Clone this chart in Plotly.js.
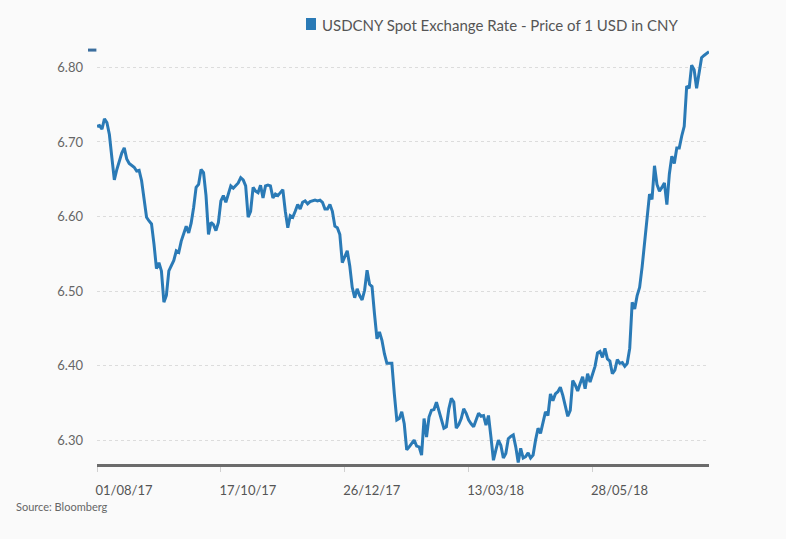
<!DOCTYPE html>
<html>
<head>
<meta charset="utf-8">
<script src="https://cdn.plot.ly/plotly-3.0.1.min.js"></script>
<style>
  html, body { margin: 0; padding: 0; background: #fafafa; }
  #chart { width: 786px; height: 539px; }
</style>
</head>
<body>
<div id="chart"></div>
<script>
// USDCNY spot rate, one value per trading day starting 01/08/17
const rate = [
  6.721, 6.722, 6.717, 6.731, 6.726, 6.710, 6.679, 6.649, 6.663, 6.674,
  6.685, 6.692, 6.677, 6.671, 6.668, 6.666, 6.661, 6.662, 6.648, 6.621,
  6.599, 6.594, 6.590, 6.563, 6.530, 6.538, 6.527, 6.485, 6.494, 6.527,
  6.534, 6.541, 6.554, 6.552, 6.567, 6.578, 6.587, 6.578, 6.591, 6.612,
  6.639, 6.643, 6.663, 6.659, 6.628, 6.576, 6.592, 6.589, 6.581, 6.592,
  6.621, 6.628, 6.619, 6.630, 6.641, 6.638, 6.641, 6.645, 6.652, 6.649,
  6.641, 6.599, 6.607, 6.639, 6.634, 6.632, 6.642, 6.625, 6.641, 6.642,
  6.641, 6.625, 6.630, 6.628, 6.632, 6.636, 6.607, 6.585, 6.601, 6.599,
  6.607, 6.616, 6.610, 6.619, 6.621, 6.617, 6.620, 6.621, 6.622, 6.621,
  6.622, 6.619, 6.610, 6.610, 6.616, 6.607, 6.587, 6.585, 6.576, 6.538,
  6.545, 6.554, 6.534, 6.505, 6.491, 6.503, 6.494, 6.488, 6.501, 6.528,
  6.509, 6.506, 6.469, 6.436, 6.445, 6.434, 6.416, 6.403, 6.403, 6.403,
  6.362, 6.327, 6.329, 6.338, 6.322, 6.287, 6.291, 6.296, 6.300, 6.292,
  6.291, 6.280, 6.329, 6.304, 6.331, 6.340, 6.341, 6.351, 6.340, 6.329,
  6.316, 6.318, 6.342, 6.356, 6.351, 6.316, 6.321, 6.329, 6.342, 6.336,
  6.327, 6.322, 6.318, 6.327, 6.336, 6.332, 6.333, 6.320, 6.333, 6.304,
  6.273, 6.287, 6.300, 6.293, 6.276, 6.282, 6.302, 6.305, 6.307, 6.291,
  6.270, 6.289, 6.276, 6.278, 6.283, 6.276, 6.280, 6.300, 6.316, 6.309,
  6.324, 6.338, 6.333, 6.362, 6.353, 6.362, 6.365, 6.371, 6.360, 6.345,
  6.332, 6.340, 6.380, 6.374, 6.366, 6.376, 6.385, 6.369, 6.389, 6.378,
  6.389, 6.399, 6.417, 6.419, 6.411, 6.423, 6.409, 6.406, 6.389, 6.394,
  6.408, 6.403, 6.404, 6.399, 6.403, 6.423, 6.485, 6.476, 6.494, 6.505,
  6.532, 6.567, 6.603, 6.630, 6.623, 6.668, 6.643, 6.634, 6.639, 6.645,
  6.616, 6.657, 6.681, 6.671, 6.692, 6.692, 6.708, 6.721, 6.775, 6.772,
  6.803, 6.797, 6.772, 6.792, 6.813, 6.816, 6.819, 6.821
];

const tickDays = [0, 50, 100, 150, 200];
const tickLabels = ["01/08/17", "17/10/17", "26/12/17", "13/03/18", "28/05/18"];
const yTicks = [6.30, 6.40, 6.50, 6.60, 6.70, 6.80];

const seriesName = "USDCNY Spot Exchange Rate - Price of 1 USD in CNY";
const sourceText = "Source: Bloomberg";

const lineColor = "#2a7ab6";
const fontFam = "Lato, 'Open Sans', sans-serif";

const trace = {
  y: rate,
  type: "scatter",
  mode: "lines",
  line: { color: lineColor, width: 3 },
  showlegend: false,
  hoverinfo: "skip"
};

const layout = {
  width: 786,
  height: 539,
  margin: { l: 97, r: 77, t: 48, b: 75 },
  paper_bgcolor: "#fafafa",
  plot_bgcolor: "#fafafa",
  font: { family: fontFam, color: "#666", size: 13 },
  showlegend: false,
  xaxis: {
    range: [0, 247],
    tickmode: "array",
    tickvals: tickDays,
    ticktext: tickLabels,
    showgrid: false,
    zeroline: false,
    showline: true,
    linecolor: "#6b6b6b",
    linewidth: 2.5,
    ticks: "outside",
    ticklen: 5,
    tickwidth: 1,
    tickcolor: "#d0d0d0",
    ticklabelshift: 27,
    ticklabelstandoff: 8,
    tickfont: { family: fontFam, size: 13, color: "#555" },
    fixedrange: true
  },
  yaxis: {
    range: [6.268, 6.826],
    tickmode: "array",
    tickvals: yTicks,
    tickformat: ".2f",
    showgrid: true,
    gridcolor: "#dcdcdc",
    griddash: "dot",
    gridwidth: 1,
    zeroline: false,
    showline: false,
    ticks: "",
    ticklabelstandoff: 13,
    tickfont: { family: fontFam, size: 13, color: "#666" },
    fixedrange: true
  },
  shapes: [
    { type: "rect", xref: "paper", yref: "paper",
      x0: 0.3415, x1: 0.3578, y0: 1.0433, y1: 1.0721,
      fillcolor: lineColor, line: { width: 0 } },
    { type: "line", xref: "paper", yref: "paper",
      x0: -0.0147, x1: -0.001, y0: 0.995, y1: 0.995,
      line: { color: "#3b6e9e", width: 3 } }
  ],
  annotations: [
    { text: seriesName, xref: "paper", yref: "paper",
      x: 0.3644, y: 1.0553, xanchor: "left", yanchor: "middle",
      showarrow: false, font: { family: fontFam, size: 15, color: "#555" } },
    { text: sourceText, xref: "paper", yref: "paper",
      x: -0.1356, y: -0.1010, xanchor: "left", yanchor: "middle",
      showarrow: false, font: { family: fontFam, size: 11, color: "#666" } }
  ]
};

Plotly.newPlot("chart", [trace], layout, { displayModeBar: false, staticPlot: true });
</script>
</body>
</html>
